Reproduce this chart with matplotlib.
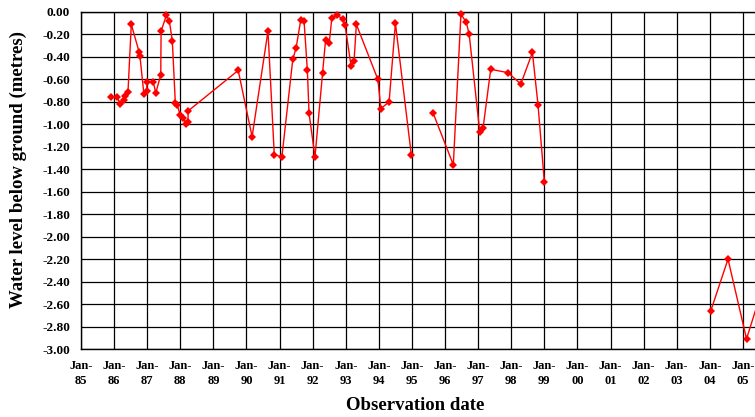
import numpy as np
import matplotlib.pyplot as plt

# observation dates as decimal years, NaN marks a break in the record
obs_year = [
    1985.90, 1986.10, 1986.18, 1986.31, 1986.33, 1986.42, 1986.52, 1986.76, 1986.78,
    1986.90, 1986.98, 1987.00, 1987.18, 1987.26, 1987.41, 1987.42, 1987.58, 1987.67,
    1987.76, 1987.85, 1987.91, 1988.00, 1988.09, 1988.17, 1988.23, 1988.24,
    1989.75, 1990.17, 1990.65, 1990.84, 1991.07, 1991.40, 1991.50, 1991.64, 1991.74,
    1991.84, 1991.89, 1992.07, 1992.30, 1992.39, 1992.50, 1992.58, 1992.73, 1992.91,
    1992.98, 1993.16, 1993.25, 1993.32, 1993.97, 1994.06, 1994.31, 1994.50, 1994.98,
    np.nan,
    1995.64, 1996.25, 1996.48, 1996.64, 1996.73, 1997.05, 1997.15, 1997.38, 1997.90,
    1998.29, 1998.64, 1998.81, 1999.00,
    np.nan,
    2004.03, 2004.55, 2005.11, 2005.60,
]
water_level = [
    -0.76, -0.76, -0.82, -0.78, -0.75, -0.71, -0.11, -0.36, -0.39,
    -0.73, -0.70, -0.62, -0.62, -0.72, -0.56, -0.17, -0.03, -0.08,
    -0.26, -0.81, -0.83, -0.92, -0.94, -1.00, -0.98, -0.88,
    -0.52, -1.11, -0.17, -1.27, -1.29, -0.42, -0.32, -0.07, -0.08,
    -0.52, -0.90, -1.29, -0.54, -0.25, -0.28, -0.05, -0.03, -0.06,
    -0.12, -0.48, -0.44, -0.11, -0.60, -0.86, -0.80, -0.10, -1.27,
    np.nan,
    -0.90, -1.36, -0.02, -0.09, -0.20, -1.07, -1.03, -0.51, -0.54,
    -0.64, -0.36, -0.83, -1.51,
    np.nan,
    -2.66, -2.20, -2.91, -2.45,
]

tick_years = list(range(1985, 2006))
tick_labels = ["Jan-\n%02d" % (y % 100) for y in tick_years]
level_ticks = np.round(np.arange(0, -3.01, -0.2), 2)

plt.rcParams['font.family'] = ['Liberation Serif', 'DejaVu Serif']

fig = plt.figure(figsize=(7.55, 4.17), dpi=100)
# axes runs off the right edge like the original
ax = fig.add_axes([81 / 755, 1 - 349 / 417, (776 - 81) / 755, 337 / 417])

ax.plot(obs_year, water_level, color="#ff0000", lw=1, marker="D",
        markersize=4.5, markeredgewidth=0, clip_on=False, zorder=3)

ax.set_xlim(1985, 2006)
ax.set_ylim(-3.0, 0.0)
ax.set_xticks(tick_years)
ax.set_xticklabels(tick_labels, fontweight="bold", fontsize=9, linespacing=1.35)
ax.set_yticks(level_ticks)
ax.set_yticklabels(["%.2f" % v for v in level_ticks], fontweight="bold", fontsize=9.5)
ax.tick_params(axis="both", length=0)
ax.tick_params(axis="x", pad=8)
ax.tick_params(axis="y", pad=8)

ax.grid(True, color="black", lw=0.9)
ax.set_axisbelow(True)
for s in ax.spines.values():
    s.set_color("black")
    s.set_linewidth(1)

fig.text(415 / 755, 1 - 405 / 417, "Observation date", ha="center", va="center",
         fontsize=13.5, fontweight="bold")
fig.text(18 / 755, 1 - 170 / 417, "Water level below ground (metres)", ha="center",
         va="center", rotation=90, fontsize=13.5, fontweight="bold")

plt.savefig("out.png", dpi=100)
